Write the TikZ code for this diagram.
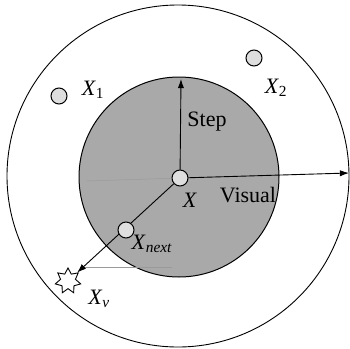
\documentclass[tikz,border=0pt]{standalone}
\usepackage{fontspec}
\setmainfont{Liberation Serif}
\usepackage{xcolor}
\usetikzlibrary{arrows.meta,positioning,calc,shapes.geometric}
\definecolor{zoneGray}{HTML}{A9A9A9}
\definecolor{dotGray}{HTML}{DEDEDE}
\definecolor{guideGray}{HTML}{9A9A9A}

\begin{document}
\begin{tikzpicture}[
        x=1pt, y=-1pt,
        dot/.style={circle, draw=black, line width=1pt, fill=dotGray, minimum size=16pt, inner sep=0pt},
        lbl/.style={font=\fontsize{22}{24}\selectfont, inner sep=0pt},
        arrow/.style={-{Latex[length=3.2mm,width=2.2mm]}, draw=black, line width=0.9pt},
        guide/.style={draw=guideGray, line width=0.5pt}
    ]
        \useasboundingbox (0,0) rectangle (350,348);
        \node[circle, draw=black, line width=0.9pt, minimum size=342pt, inner sep=0pt] (visual) at (178,176) {};
        \node[circle, draw=black, line width=1pt, fill=zoneGray, minimum size=200pt, inner sep=0pt] (step) at (179,177) {};

        \coordinate (stepend) at (181,79);
        \coordinate (visend) at (349,173);
        \coordinate (guidea) at (87,181);
        \coordinate (guideb) at (82,267);
        \coordinate (guidec) at (172,267);

        \node[dot] (X) at (180,178) {};
        \node[star, star points=7, star point ratio=1.7, draw=black, line width=0.9pt, fill=white, minimum size=26pt, inner sep=0pt] (Xv) at (68,281) {};

        \draw[guide] (guidea) -- (X);
        \draw[guide] (guideb) -- (guidec);
        \draw[arrow] (X) -- (stepend);
        \draw[arrow] (X) -- (visend);
        \draw[arrow] (X) -- (Xv);

        \node[dot] (Xnext) at (126,230) {};
        \node[dot] (X1) at (59,96) {};
        \node[dot] (X2) at (254,58) {};

        \node[lbl] (lstep) at (207,122) {Step};
        \node[lbl] (lvisual) at (248,195) {Visual};
        \node[lbl] (lX) at (190,200) {\textit{X}};
        \node[lbl] (lX1) at (93,90) {\textit{X}\textsubscript{1}};
        \node[lbl] (lX2) at (276,88) {\textit{X}\textsubscript{2}};
        \node[lbl] (lXnext) at (152,244) {\textit{X}\textsubscript{\textit{next}}};
        \node[lbl] (lXv) at (99,299) {\textit{X}\textsubscript{\textit{v}}};
    \end{tikzpicture}
\end{document}
